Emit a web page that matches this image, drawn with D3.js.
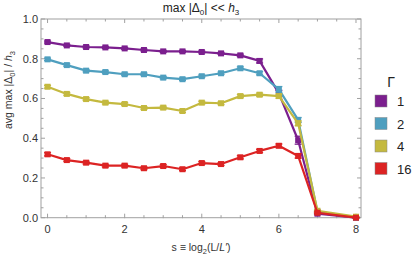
<!DOCTYPE html>
<html>
<head>
    <script src="https://d3js.org/d3.v7.min.js"></script>
    <style>
        body { margin: 0; background: #fff; }
        text { font-family: "Liberation Sans", Arial, sans-serif; }
    </style>
</head>
<body>
<div id="chart"></div>
<script>
    // data
    const sValues = [0, 0.5, 1, 1.5, 2, 2.5, 3, 3.5, 4, 4.5, 5, 5.5, 6, 6.5, 7, 8];
    const gammas = ["1", "2", "4", "16"];
    const gamma1 = [0.884, 0.867, 0.859, 0.857, 0.852, 0.844, 0.837, 0.837, 0.834, 0.827, 0.817, 0.789, 0.626, 0.390, 0.020, 0.000];
    const gamma2 = [0.797, 0.768, 0.740, 0.733, 0.722, 0.722, 0.705, 0.697, 0.712, 0.727, 0.752, 0.727, 0.646, 0.492, 0.030, 0.000];
    const gamma4 = [0.659, 0.623, 0.597, 0.579, 0.572, 0.552, 0.554, 0.537, 0.579, 0.576, 0.612, 0.619, 0.612, 0.475, 0.035, 0.005];
    const gamma16 = [0.319, 0.290, 0.277, 0.262, 0.262, 0.249, 0.260, 0.244, 0.275, 0.270, 0.304, 0.336, 0.362, 0.311, 0.025, 0.000];
    const err1 = [0.005, 0.005, 0.005, 0.005, 0.005, 0.005, 0.005, 0.005, 0.005, 0.005, 0.006, 0.01, 0.015, 0.02, 0.004, 0.001];
    const err2 = [0.006, 0.006, 0.006, 0.006, 0.006, 0.006, 0.006, 0.006, 0.006, 0.006, 0.007, 0.008, 0.014, 0.012, 0.004, 0.001];
    const err4 = [0.007, 0.007, 0.007, 0.007, 0.007, 0.007, 0.007, 0.007, 0.007, 0.007, 0.008, 0.008, 0.01, 0.012, 0.004, 0.001];
    const err16 = [0.008, 0.007, 0.007, 0.007, 0.007, 0.007, 0.007, 0.007, 0.007, 0.007, 0.008, 0.008, 0.009, 0.011, 0.004, 0.001];
    const xTicks = [0, 2, 4, 6, 8];
    const yTicks = [0.0, 0.2, 0.4, 0.6, 0.8, 1.0];

    const colors = ["#7b1f8e", "#4f9fbf", "#c4b93f", "#dc2323"];
    const series = [gamma1, gamma2, gamma4, gamma16].map((vals, i) => ({
        name: gammas[i],
        color: colors[i],
        points: vals.map((v, j) => ({ s: sValues[j], v: v, e: [err1, err2, err4, err16][i][j] }))
    }));

    const width = 415, height = 258;
    const svg = d3.select("#chart").append("svg")
        .attr("width", width).attr("height", height);

    const x = d3.scaleLinear().domain([-0.17, 8.13]).range([41, 361]);
    const y = d3.scaleLinear().domain([0, 1.0]).range([217.7, 19]);

    const frameColor = "#a0a0a0";

    // frame
    svg.append("rect")
        .attr("x", x.range()[0]).attr("y", y.range()[1])
        .attr("width", x.range()[1] - x.range()[0])
        .attr("height", y.range()[0] - y.range()[1])
        .attr("fill", "none").attr("stroke", frameColor).attr("stroke-width", 1);

    // ticks on all four sides, pointing inward
    const minorX = d3.range(0, 8.01, 0.5);
    const minorY = d3.range(0, 1.001, 0.05);
    const tickG = svg.append("g").attr("stroke", frameColor).attr("stroke-width", 1);
    minorX.forEach(t => {
        const major = xTicks.includes(t);
        const len = major ? 4 : 2.5;
        tickG.append("line").attr("x1", x(t)).attr("x2", x(t))
            .attr("y1", y(0) + 0.5).attr("y2", y(0) - len);
        tickG.append("line").attr("x1", x(t)).attr("x2", x(t))
            .attr("y1", y(1)).attr("y2", y(1) + len);
    });
    minorY.forEach(t => {
        const major = yTicks.some(v => Math.abs(v - t) < 1e-6);
        const len = major ? 4 : 2.5;
        tickG.append("line").attr("y1", y(t)).attr("y2", y(t))
            .attr("x1", x.range()[0]).attr("x2", x.range()[0] + len);
        tickG.append("line").attr("y1", y(t)).attr("y2", y(t))
            .attr("x1", x.range()[1]).attr("x2", x.range()[1] - len);
    });

    // tick labels
    svg.append("g").selectAll("text").data(xTicks).enter().append("text")
        .attr("x", d => x(d)).attr("y", y(0) + 15)
        .attr("text-anchor", "middle").attr("font-size", 11).attr("fill", "#333")
        .text(d => d);
    svg.append("g").selectAll("text").data(yTicks).enter().append("text")
        .attr("x", x.range()[0] - 3).attr("y", d => y(d) + 4)
        .attr("text-anchor", "end").attr("font-size", 11).attr("fill", "#333")
        .text(d => d.toFixed(1));

    // lines, error bars, markers
    const line = d3.line().x(d => x(d.s)).y(d => y(d.v));
    series.forEach(sr => {
        const g = svg.append("g");
        g.append("path").datum(sr.points)
            .attr("d", line).attr("fill", "none")
            .attr("stroke", sr.color).attr("stroke-width", 2.2).attr("stroke-linejoin", "round");
        const eb = g.selectAll(".eb").data(sr.points).enter().append("g")
            .attr("stroke", sr.color).attr("stroke-width", 1.3);
        eb.append("line").attr("x1", d => x(d.s)).attr("x2", d => x(d.s))
            .attr("y1", d => y(d.v - d.e)).attr("y2", d => y(d.v + d.e));
        eb.append("line").attr("x1", d => x(d.s) - 3.5).attr("x2", d => x(d.s) + 3.5)
            .attr("y1", d => y(d.v - d.e)).attr("y2", d => y(d.v - d.e));
        eb.append("line").attr("x1", d => x(d.s) - 3.5).attr("x2", d => x(d.s) + 3.5)
            .attr("y1", d => y(d.v + d.e)).attr("y2", d => y(d.v + d.e));
        g.selectAll("rect").data(sr.points).enter().append("rect")
            .attr("x", d => x(d.s) - 3).attr("y", d => y(d.v) - 3)
            .attr("width", 6).attr("height", 6).attr("fill", sr.color);
    });

    // title
    const title = svg.append("text").attr("x", 201).attr("y", 12)
        .attr("text-anchor", "middle").attr("font-size", 12).attr("fill", "#222");
    title.append("tspan").text("max |Δ");
    title.append("tspan").attr("font-size", 8).attr("dy", 3).text("0");
    title.append("tspan").attr("dy", -3).text("| << ");
    title.append("tspan").attr("font-style", "italic").text("h");
    title.append("tspan").attr("font-size", 8).attr("dy", 3).text("3");

    // x axis label
    const xl = svg.append("text").attr("x", 201).attr("y", 251)
        .attr("text-anchor", "middle").attr("font-size", 10.5).attr("fill", "#333");
    xl.append("tspan").text("s ≡ log");
    xl.append("tspan").attr("font-size", 7.5).attr("dy", 3).text("2");
    xl.append("tspan").attr("dy", -3).text("(L/");
    xl.append("tspan").attr("font-style", "italic").text("L′");
    xl.append("tspan").text(")");

    // y axis label
    const yl = svg.append("text")
        .attr("transform", "translate(12, 90) rotate(-90)")
        .attr("text-anchor", "middle").attr("font-size", 10.5).attr("fill", "#333");
    yl.append("tspan").text("avg max |Δ");
    yl.append("tspan").attr("font-size", 7.5).attr("dy", 3).text("0");
    yl.append("tspan").attr("dy", -3).text("| / ");
    yl.append("tspan").attr("font-style", "italic").text("h");
    yl.append("tspan").attr("font-size", 7.5).attr("dy", 3).text("3");

    // legend
    const legend = svg.append("g");
    legend.append("text").attr("x", 391).attr("y", 87)
        .attr("text-anchor", "middle").attr("font-size", 14).attr("fill", "#222").text("Γ");
    const items = legend.selectAll(".item").data(series).enter().append("g")
        .attr("transform", (d, i) => `translate(375, ${95 + i * 22.5})`);
    items.append("rect").attr("width", 12).attr("height", 12)
        .attr("fill", d => d.color).attr("stroke", "#888").attr("stroke-width", 0.5);
    items.append("text").attr("x", 22).attr("y", 11)
        .attr("font-size", 13).attr("fill", "#222").text(d => d.name);
</script>
</body>
</html>
